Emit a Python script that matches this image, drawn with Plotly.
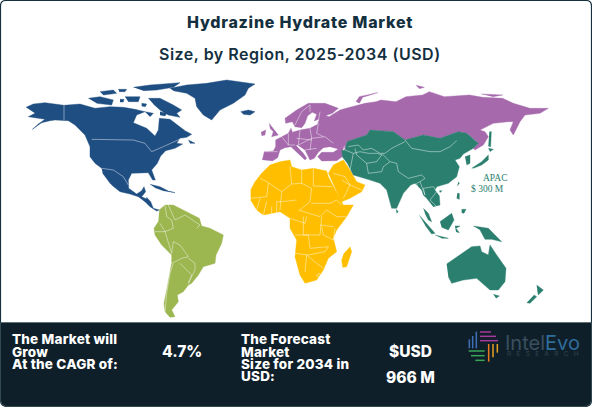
import plotly.graph_objects as go

WIDTH = 592
HEIGHT = 407

TITLE = "Hydrazine Hydrate Market"
SUBTITLE = "Size, by Region, 2025-2034 (USD)"
REGION_LABEL = "APAC"
REGION_VALUE = "$ 300 M"
CAGR = "4.7%"
FORECAST_UNIT = "$USD"
FORECAST_VALUE = "966 M"

F1 = (0, 0)
F2 = (296, 0)
F3 = (120, 160)
F4 = (380, 140)
F7 = (255, 95)
F8 = (340, 120)
F9 = (420, 80)


def m(frame, pts):
    return [(frame[0] + x / 3, frame[1] + y / 3) for x, y in pts]


def xy(polys):
    xs, ys = [], []
    for poly in polys:
        xs += [p[0] for p in poly] + [None]
        ys += [p[1] for p in poly] + [None]
    return xs, ys


north_america = [
    m(F1, [(78, 322), (100, 312), (135, 308), (192, 316), (240, 312), (285, 325), (330, 320), (370, 322),
           (405, 328), (435, 335), (410, 345), (400, 368), (440, 385), (465, 408), (475, 390), (478, 355),
           (510, 358), (530, 372), (555, 392), (575, 403), (560, 412), (540, 415), (530, 430), (548, 432),
           (525, 445), (497, 452), (482, 468), (472, 490), (455, 510), (466, 540), (458, 540), (445, 518),
           (420, 518), (395, 520), (385, 540), (386, 565), (410, 582), (425, 572), (432, 560), (437, 575),
           (425, 590), (440, 597)])
    + m(F3, [(80, 112), (92, 125), (100, 145), (118, 150), (110, 153), (90, 140), (75, 125), (55, 110),
             (30, 102), (0, 95)])
    + m(F1, [(335, 555), (320, 530), (305, 505), (285, 490), (270, 470), (270, 440), (255, 405), (225, 375),
             (205, 362), (165, 360), (150, 362), (125, 368), (97, 388), (115, 372), (135, 358), (85, 350),
             (105, 340)]),
    m(F1, [(510, 265), (560, 255), (620, 250), (680, 240), (765, 252), (745, 265), (735, 285), (700, 310),
           (660, 330), (635, 360), (610, 345), (590, 320), (585, 295), (560, 280), (520, 272)]),
    m(F1, [(722, 335), (745, 330), (765, 335), (750, 345), (730, 343)]),
    m(F1, [(265, 295), (300, 290), (340, 300), (335, 315), (290, 310)]),
    m(F1, [(300, 275), (340, 270), (350, 280), (310, 285)]),
    m(F1, [(375, 290), (420, 290), (415, 305), (385, 305)]),
    m(F1, [(400, 262), (450, 255), (540, 248), (520, 262), (470, 270), (430, 272)]),
    m(F1, [(445, 295), (480, 295), (520, 315), (545, 330), (530, 340), (540, 352), (505, 345), (480, 330),
           (460, 312)]),
    m(F1, [(435, 335), (460, 340), (450, 350)]),
    m(F1, [(565, 420), (585, 430), (570, 430)]),
    m(F1, [(305, 505), (318, 520), (332, 552), (322, 540), (308, 520)]),
    m(F1, [(450, 553), (480, 560), (505, 573), (525, 578), (490, 572), (465, 563)]),
    m(F1, [(355, 268), (380, 268), (375, 275), (358, 275)]),
    m(F1, [(360, 298), (372, 298), (370, 306), (360, 306)]),
    m(F1, [(425, 310), (440, 312), (436, 320), (425, 318)]),
    m(F1, [(480, 335), (500, 340), (495, 348), (480, 345)]),
]
north_america_borders = [
    m(F1, [(192, 316), (192, 360)]),
    m(F1, [(275, 418), (400, 420), (435, 430), (455, 455), (490, 440), (520, 425), (545, 415)]),
    m(F1, [(305, 505), (340, 510), (370, 530), (385, 555)]),
]

south_america = [
    m(F3, [(118, 150), (135, 135), (160, 135), (190, 150), (215, 165), (238, 175), (245, 198), (270, 205),
           (310, 225), (305, 250), (288, 285), (285, 310), (250, 320), (235, 345), (215, 370), (205, 375),
           (190, 395), (172, 405), (175, 425), (155, 450), (165, 470), (150, 472), (135, 455), (132, 430),
           (140, 390), (150, 340), (155, 310), (155, 285), (125, 255), (105, 225), (102, 205), (115, 185)]),
]
south_america_borders = [
    m(F3, [(135, 135), (140, 170), (155, 180), (160, 205), (135, 215), (105, 215)]),
    m(F3, [(145, 135), (165, 180), (195, 165), (225, 185), (240, 195), (230, 205)]),
    m(F3, [(120, 190), (135, 215), (155, 280), (160, 245), (180, 255), (205, 290), (185, 295), (155, 310)]),
    m(F3, [(180, 310), (215, 345), (205, 370), (225, 330), (225, 310), (205, 295)]),
    m(F3, [(160, 310), (150, 340), (140, 400), (135, 460)]),
]

africa_me = [
    m(F3, [(392, 90), (405, 65), (425, 40), (450, 15), (480, 5), (510, 0), (515, 20), (545, 30), (580, 25),
           (620, 33), (625, 50), (650, 100), (670, 135), (700, 135), (680, 170), (650, 210), (640, 235),
           (650, 275), (625, 295), (610, 330), (590, 360), (555, 370), (540, 345), (525, 290), (530, 240),
           (510, 205), (510, 175), (480, 155), (430, 165), (410, 150), (392, 120)]),
    m(F3, [(625, 40), (640, 15), (670, 0), (690, 30), (710, 65), (735, 75), (725, 95), (690, 115), (665, 125),
           (650, 95)]),
    m(F3, [(690, 260), (695, 275), (680, 320), (668, 322), (665, 300), (672, 280)]),
]
africa_borders = [
    m(F3, [(420, 55), (440, 65), (485, 95), (515, 72), (510, 20)]),
    m(F3, [(545, 30), (545, 70)]),
    m(F3, [(580, 25), (580, 78), (635, 80)]),
    m(F3, [(515, 72), (545, 70), (575, 85), (570, 125), (540, 150)]),
    m(F3, [(485, 95), (480, 150)]),
    m(F3, [(392, 115), (440, 110), (445, 70)]),
    m(F3, [(410, 150), (420, 115)]),
    m(F3, [(430, 165), (440, 125)]),
    m(F3, [(455, 165), (455, 140)]),
    m(F3, [(470, 160), (470, 125), (485, 125), (530, 120)]),
    m(F3, [(575, 130), (630, 130), (650, 120), (665, 135)]),
    m(F3, [(620, 150), (650, 170), (680, 170)]),
    m(F3, [(535, 150), (600, 170), (620, 150)]),
    m(F3, [(510, 175), (555, 190), (560, 170)]),
    m(F3, [(550, 170), (550, 225), (600, 225), (605, 170)]),
    m(F3, [(600, 195), (640, 200)]),
    m(F3, [(605, 200), (610, 225), (640, 240), (645, 205)]),
    m(F3, [(525, 280), (565, 285), (615, 275), (625, 260), (570, 265), (565, 225), (525, 225)]),
    m(F3, [(555, 335), (560, 285), (590, 310), (610, 325)]),
    m(F3, [(590, 345), (598, 340), (602, 348), (594, 352), (590, 345)]),
    m(F3, [(665, 60), (690, 75), (725, 90)]),
    m(F3, [(640, 40), (675, 50), (690, 75), (670, 115)]),
]

europe_russia = [
    m(F7, [(22, 195), (28, 170), (55, 168), (62, 155), (62, 135), (80, 125), (100, 115), (108, 100), (112, 112),
           (135, 105), (165, 100), (188, 88), (192, 72), (178, 78), (185, 58), (172, 52), (158, 62), (150, 85),
           (140, 98), (120, 95), (112, 80), (92, 85), (90, 70), (125, 45), (160, 25), (210, 25), (250, 40),
           (232, 55), (212, 62), (222, 65), (255, 45), (265, 42), (290, 35), (330, 25)])
    + m(F2, [(240, 305), (255, 300), (300, 305), (330, 290), (380, 285), (400, 275), (445, 290), (520, 285),
             (560, 292), (620, 295)])
    + m(F9, [(280, 70), (330, 85), (385, 85), (360, 100), (315, 105), (300, 125), (280, 165), (270, 150),
             (280, 125), (265, 125), (220, 130), (180, 150), (195, 155), (205, 170), (190, 195), (165, 210),
             (160, 205), (175, 190), (165, 180), (140, 160), (115, 155)])
    + m(F8, [(300, 55), (250, 45), (195, 60), (160, 35), (90, 30), (80, 45), (20, 65), (15, 90)])
    + m(F7, [(268, 150), (262, 170), (272, 178), (245, 197), (200, 198), (188, 185), (200, 172), (235, 172),
             (250, 162), (225, 155), (205, 158), (190, 172), (178, 190), (165, 195), (150, 165), (128, 150),
             (122, 150), (145, 175), (155, 190), (150, 195), (128, 175), (108, 155), (90, 158), (75, 165),
             (68, 188), (52, 198)]),
    m(F7, [(42, 85), (55, 100), (70, 120), (50, 125), (55, 110), (45, 100)]),
    m(F7, [(18, 112), (32, 105), (30, 120), (20, 122)]),
    m(F2, [(180, 305), (190, 290), (245, 278), (200, 292), (190, 310)]),
    m(F2, [(360, 256), (385, 262), (370, 266)]),
    m(F2, [(555, 282), (620, 285), (590, 290)]),
]
europe_borders = [
    m(F7, [(30, 170), (68, 170)]),
    m(F7, [(100, 115), (100, 150)]),
    m(F7, [(135, 105), (130, 150)]),
    m(F7, [(165, 100), (170, 130), (165, 165)]),
    m(F7, [(130, 150), (170, 130), (210, 125), (235, 145)]),
    m(F7, [(190, 85), (185, 115), (205, 125)]),
    m(F7, [(125, 130), (170, 135)]),
    m(F7, [(195, 50), (190, 80)]),
    m(F7, [(120, 90), (140, 50), (165, 30), (165, 50)]),
    m(F7, [(80, 125), (100, 150), (120, 150)]),
    m(F7, [(150, 165), (185, 160)]),
]

asia_pacific = [
    m(F8, [(20, 65), (80, 45), (90, 30), (160, 35), (195, 60), (250, 45), (300, 55)])
    + m(F9, [(115, 155), (140, 160), (165, 180), (175, 190), (160, 205), (130, 222), (120, 235), (105, 240),
             (118, 260), (110, 290)])
    + m(F4, [(205, 130), (170, 140), (165, 150), (178, 168), (180, 195), (160, 200), (140, 175), (130, 165),
             (125, 150), (105, 130), (92, 135), (70, 160), (50, 205), (35, 205), (20, 150), (0, 130)])
    + m(F8, [(90, 180), (40, 165), (22, 130), (8, 112), (5, 92), (15, 90)]),
    m(F4, [(130, 205), (145, 220), (155, 245), (145, 240), (135, 220)]),
    m(F4, [(48, 208), (55, 215), (50, 220)]),
    m(F4, [(235, 125), (238, 130), (232, 138)]),
    m(F4, [(178, 152), (186, 152), (180, 158)]),
    m(F4, [(232, 160), (238, 160), (238, 178), (230, 175)]),
    m(F4, [(245, 208), (258, 208), (252, 220), (245, 218)]),
    m(F4, [(118, 226), (140, 250), (165, 280), (155, 282), (135, 255)]),
    m(F4, [(165, 285), (205, 295), (185, 295)]),
    m(F4, [(180, 245), (215, 220), (222, 240), (205, 270), (185, 262)]),
    m(F4, [(225, 258), (240, 258), (228, 265), (238, 278), (228, 275)]),
    m(F4, [(280, 258), (300, 262), (325, 265), (345, 285), (365, 305), (335, 298), (315, 298), (300, 270)]),
    m(F4, [(200, 372), (240, 345), (275, 320), (300, 318), (305, 335), (325, 345), (330, 315), (350, 345),
           (378, 385), (375, 425), (355, 450), (330, 450), (305, 428), (290, 415), (250, 420), (215, 430),
           (205, 410)]),
    m(F4, [(340, 463), (358, 468), (348, 475)]),
    m(F4, [(470, 435), (490, 450), (475, 465), (472, 450)]),
    m(F4, [(462, 465), (470, 470), (450, 490), (440, 488)]),
    m(F9, [(208, 155), (214, 155), (212, 200), (205, 198)]),
    m(F9, [(205, 205), (220, 208), (210, 215)]),
    m(F9, [(155, 265), (185, 245), (205, 225), (205, 240), (185, 255), (160, 265)]),
    m(F9, [(135, 230), (150, 225), (150, 250), (140, 255)]),
]
asia_borders = [
    m(F8, [(15, 90), (40, 100), (60, 95), (85, 100), (110, 100), (130, 105), (150, 125), (170, 130), (175, 155),
           (205, 175), (245, 165), (255, 175), (240, 185), (230, 190), (240, 230)]),
    m(F8, [(250, 205), (280, 200), (290, 215), (270, 240), (290, 260)]),
    m(F8, [(25, 80), (55, 75), (70, 90), (95, 85), (120, 100), (135, 100), (155, 85), (195, 65)]),
    m(F8, [(195, 60), (215, 85), (270, 95), (300, 95), (330, 80), (350, 62)]),
    m(F8, [(80, 130), (85, 160), (125, 155), (130, 140), (150, 125)]),
    m(F8, [(45, 85), (50, 105), (80, 130), (110, 125), (125, 105)]),
    m(F8, [(40, 100), (30, 150)]),
    m(F8, [(240, 185), (255, 225), (250, 205)]),
]

# name, fill colour, polygons, inner borders
regions = [
    ("North America", "#1f4e82", north_america, north_america_borders),
    ("South America", "#9cb650", south_america, south_america_borders),
    ("Europe", "#a569ac", europe_russia, europe_borders),
    ("Middle East & Africa", "#ffbf00", africa_me, africa_borders),
    ("Asia Pacific", "#2a7f6f", asia_pacific, asia_borders),
]

fig = go.Figure()
for name, color, polys, borders in regions:
    xs, ys = xy(polys)
    fig.add_trace(go.Scatter(x=xs, y=ys, mode="lines", fill="toself", fillcolor=color, name=name,
                             line=dict(color=color, width=0.4), hoverinfo="name"))
    bx, by = xy(borders)
    fig.add_trace(go.Scatter(x=bx, y=by, mode="lines", hoverinfo="skip",
                             line=dict(color="rgba(255,255,255,0.75)", width=0.6)))

# logo strokes
logo_strokes = [
    ("#3f6fb5", [(520, 115), (520, 88)]), ("#3f6fb5", [(530, 115), (530, 78)]), ("#3f6fb5", [(541, 115), (541, 65)]),
    ("#a8389a", [(552, 66), (585, 66)]), ("#a8389a", [(552, 79), (600, 79)]), ("#a8389a", [(552, 92), (606, 92)]),
    ("#e8a020", [(604, 102), (604, 128)]), ("#e8a020", [(591, 102), (591, 142)]), ("#e87a20", [(578, 102), (578, 155)]),
    ("#3aa655", [(518, 123), (566, 123)]), ("#3aa655", [(525, 137), (566, 137)]), ("#3aa655", [(538, 151), (566, 151)]),
]
LOGO_FRAME = (296, 310)
shapes = [
    dict(type="path", layer="below", fillcolor="white", line=dict(color="#17323f", width=1.2),
         path="M 6 0.5 H 586 Q 591.5 0.5 591.5 6 V 400 Q 591.5 406.5 585 406.5 H 7 Q 0.5 406.5 0.5 400 V 6 Q 0.5 0.5 6 0.5 Z"),
    dict(type="path", layer="below", fillcolor="#0f1f2a", line=dict(color="#4a5f66", width=0.6),
         path="M 0.5 322.5 H 591.5 V 399 Q 591.5 406.5 584 406.5 H 8 Q 0.5 406.5 0.5 399 Z"),
]
for color, stroke in logo_strokes:
    (x0, y0), (x1, y1) = m(LOGO_FRAME, stroke)
    shapes.append(dict(type="line", x0=x0, y0=y0, x1=x1, y1=y1, line=dict(color=color, width=1.5)))


def label(x, y, text, size=13, color="white", weight=800, family="Inter", anchor="left", spacing=0):
    if spacing:
        text = f"<span style='letter-spacing:{spacing}px'>{text}</span>"
    return dict(x=x, y=y, text=text, showarrow=False, xanchor=anchor, yanchor="middle",
                font=dict(family=family, size=size, color=color, weight=weight))


annotations = [
    label(300, 22, TITLE, size=16, color="#14303f", anchor="center", spacing=0.75),
    label(300, 54, SUBTITLE, size=16, color="#14303f", weight=600, anchor="center", spacing=0.5),
    label(495, 178, REGION_LABEL, size=9.5, color="#2a7f6f", weight=400, family="Liberation Serif", anchor="center"),
    label(487, 189, REGION_VALUE, size=9.5, color="#2a7f6f", weight=400, family="Liberation Serif", anchor="center"),
    label(10, 339, "The Market will", size=13.5, spacing=0.2),
    label(10, 351.5, "Grow", size=13.5, spacing=0.2),
    label(10, 364, "At the CAGR of:", size=13.5, spacing=0.2),
    label(182, 351, CAGR, size=15.5, anchor="center"),
    label(239, 339, "The Forecast", size=13.5, spacing=0.2),
    label(239, 351.5, "Market", size=13.5, spacing=0.2),
    label(239, 364, "Size for 2034 in", size=13.5, spacing=0.2),
    label(239, 376, "USD:", size=13.5, spacing=0.2),
    label(410, 351, FORECAST_UNIT, size=15.5, anchor="center"),
    label(410, 377, FORECAST_VALUE, size=15.5, anchor="center"),
    label(503, 343, "Intel<span style='color:#2f6d9a'>Evo</span>", size=20, color="#3b4f5e", weight=400),
    label(505, 354, "RESEARCH", size=6.5, color="#33434f", weight=400, spacing=5.3),
]

fig.update_layout(
    width=WIDTH,
    height=HEIGHT,
    autosize=False,
    margin=dict(l=0, r=0, t=0, b=0),
    paper_bgcolor="white",
    plot_bgcolor="rgba(0,0,0,0)",
    showlegend=False,
    shapes=shapes,
    annotations=annotations,
    xaxis=dict(range=[0, WIDTH], visible=False, fixedrange=True),
    yaxis=dict(range=[HEIGHT, 0], visible=False, fixedrange=True),
)

# the page's default body margin would push the card off by 8px
fig.write_html("out.html", config=dict(displayModeBar=False), post_script="document.body.style.margin='0';")
